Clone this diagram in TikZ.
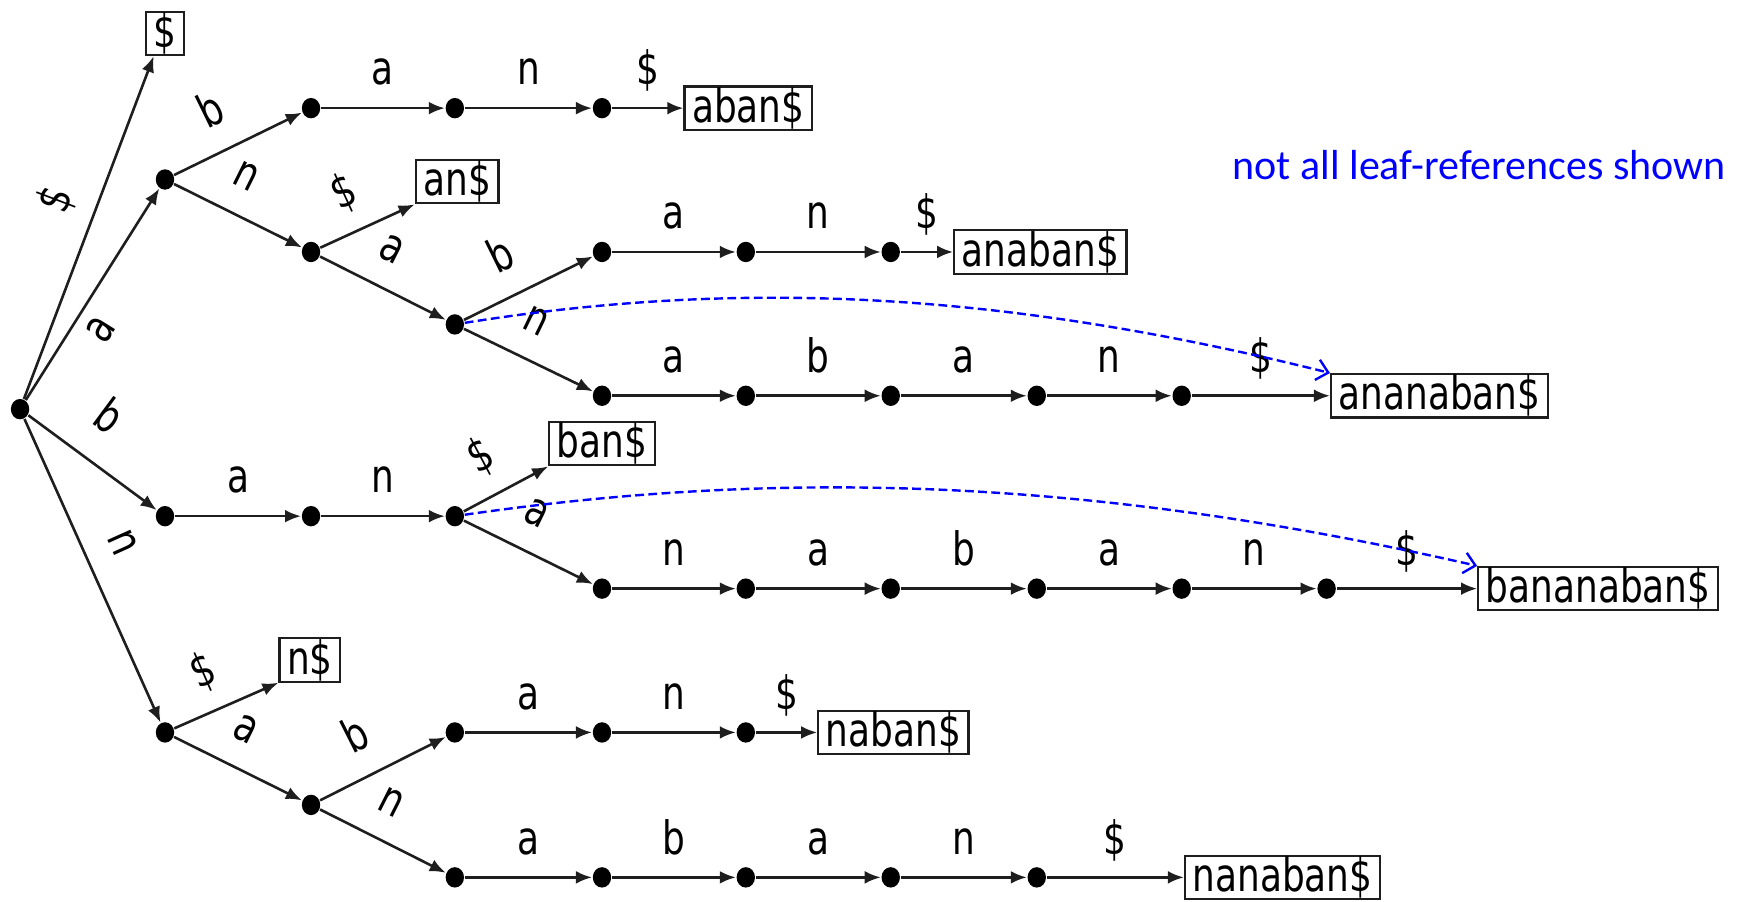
\documentclass[tikz,border=0pt]{standalone}
\usepackage{fontspec}
\newfontfamily\lblFont[FakeStretch=0.78]{DejaVu Sans}
\newfontfamily\noteFont{Carlito}
\usetikzlibrary{arrows.meta, shapes.geometric}
\definecolor{refBlue}{HTML}{0000FF}
\definecolor{edgeInk}{HTML}{1E1E1E}

\begin{document}
\begin{tikzpicture}[x=0.2787pt, y=-0.2787pt,
    dotNode/.style={ellipse, fill=black, inner sep=0pt, minimum width=4.6pt, minimum height=5.1pt},
    leafBox/.style={draw=edgeInk, line width=0.55pt, inner xsep=1.9pt, inner ysep=0.2pt, font=\lblFont\fontsize{11.5}{13}\selectfont},
    treeEdge/.style={draw=edgeInk, line width=0.65pt, -{Latex[length=4pt,width=3.2pt]}},
    edgeLbl/.style={font=\lblFont\fontsize{11.5}{13}\selectfont, inner sep=0pt, text height=6.3pt, text depth=0pt},
    onLine/.style={edgeLbl, midway, above=5.5pt},
    onSlope/.style={edgeLbl, pos=.43, sloped, above=6.2pt},
    leafRef/.style={draw=refBlue, line width=0.6pt, dash pattern=on 2.2pt off 1.1pt, -{Straight Barb[length=2.8pt,width=5.2pt]}}]

\useasboundingbox (0,0) rectangle (1568,809);

% tree nodes
\node[dotNode] (r) at (18,367) {};
\node[dotNode] (a) at (148,161) {};
\node[dotNode] (ab) at (279,97) {};
\node[dotNode] (aba) at (408,97) {};
\node[dotNode] (aban) at (540,97) {};
\node[dotNode] (an) at (279,226) {};
\node[dotNode] (ana) at (408,291) {};
\node[dotNode] (anab) at (540,226) {};
\node[dotNode] (anaba) at (669,226) {};
\node[dotNode] (anaban) at (799,226) {};
\node[dotNode] (anan) at (540,355) {};
\node[dotNode] (anana) at (669,355) {};
\node[dotNode] (ananab) at (799,355) {};
\node[dotNode] (ananaba) at (930,355) {};
\node[dotNode] (ananaban) at (1060,355) {};
\node[dotNode] (b) at (148,463) {};
\node[dotNode] (ba) at (279,463) {};
\node[dotNode] (ban) at (408,463) {};
\node[dotNode] (bana) at (540,528) {};
\node[dotNode] (banan) at (669,528) {};
\node[dotNode] (banana) at (799,528) {};
\node[dotNode] (bananab) at (930,528) {};
\node[dotNode] (bananaba) at (1060,528) {};
\node[dotNode] (bananaban) at (1190,528) {};
\node[dotNode] (n) at (148,657) {};
\node[dotNode] (na) at (279,722) {};
\node[dotNode] (nab) at (408,657) {};
\node[dotNode] (naba) at (540,657) {};
\node[dotNode] (naban) at (669,657) {};
\node[dotNode] (nan) at (408,787) {};
\node[dotNode] (nana) at (540,787) {};
\node[dotNode] (nanab) at (669,787) {};
\node[dotNode] (nanaba) at (799,787) {};
\node[dotNode] (nanaban) at (930,787) {};

% leaves
\node[leafBox] (leafD) at (148,30) {\$};
\node[leafBox, anchor=west] (leafAban) at (613,97) {aban\$};
\node[leafBox] (leafAn) at (410,163) {an\$};
\node[leafBox, anchor=west] (leafAnaban) at (855,226) {anaban\$};
\node[leafBox, anchor=west] (leafAnanaban) at (1193,355) {ananaban\$};
\node[leafBox] (leafBan) at (540,398) {ban\$};
\node[leafBox, anchor=west] (leafBananaban) at (1325,528) {bananaban\$};
\node[leafBox] (leafN) at (278,592) {n\$};
\node[leafBox, anchor=west] (leafNaban) at (733,657) {naban\$};
\node[leafBox, anchor=west] (leafNanaban) at (1062,787) {nanaban\$};

\node[text=refBlue, font=\noteFont\fontsize{10.5}{12}\selectfont] (note) at (1327,148) {not all leaf-references shown};

% edges from the root
\draw[treeEdge] (r) -- node[edgeLbl, pos=.54, sloped, above=6.2pt] {\$} ([xshift=2.2pt]leafD.south west);
\draw[treeEdge] (r) -- node[edgeLbl, pos=.4, sloped, below=3pt] {a} (a);
\draw[treeEdge] (r) -- node[edgeLbl, pos=.41, sloped, above=7.5pt] {b} (b);
\draw[treeEdge] (r) -- node[edgeLbl, pos=.46, sloped, above=6.2pt] {n} (n);

% a-subtree
\draw[treeEdge] (a) -- node[onSlope] {b} (ab);
\draw[treeEdge] (a) -- node[onSlope] {n} (an);
\draw[treeEdge] (ab) -- node[onLine] {a} (aba);
\draw[treeEdge] (aba) -- node[onLine] {n} (aban);
\draw[treeEdge] (aban) -- node[onLine] {\$} (leafAban);
\draw[treeEdge] (an) -- node[onSlope] {\$} (leafAn.south west);
\draw[treeEdge] (an) -- node[onSlope] {a} (ana);
\draw[treeEdge] (ana) -- node[onSlope] {b} (anab);
\draw[treeEdge] (ana) -- node[onSlope] {n} (anan);
\draw[treeEdge] (anab) -- node[onLine] {a} (anaba);
\draw[treeEdge] (anaba) -- node[onLine] {n} (anaban);
\draw[treeEdge] (anaban) -- node[onLine] {\$} (leafAnaban);
\draw[treeEdge] (anan) -- node[onLine] {a} (anana);
\draw[treeEdge] (anana) -- node[onLine] {b} (ananab);
\draw[treeEdge] (ananab) -- node[onLine] {a} (ananaba);
\draw[treeEdge] (ananaba) -- node[onLine] {n} (ananaban);
\draw[treeEdge] (ananaban) -- node[onLine] {\$} (leafAnanaban);

% b-subtree
\draw[treeEdge] (b) -- node[onLine] {a} (ba);
\draw[treeEdge] (ba) -- node[onLine] {n} (ban);
\draw[treeEdge] (ban) -- node[onSlope] {\$} (leafBan.south west);
\draw[treeEdge] (ban) -- node[onSlope] {a} (bana);
\draw[treeEdge] (bana) -- node[onLine] {n} (banan);
\draw[treeEdge] (banan) -- node[onLine] {a} (banana);
\draw[treeEdge] (banana) -- node[onLine] {b} (bananab);
\draw[treeEdge] (bananab) -- node[onLine] {a} (bananaba);
\draw[treeEdge] (bananaba) -- node[onLine] {n} (bananaban);
\draw[treeEdge] (bananaban) -- node[onLine] {\$} (leafBananaban);

% n-subtree
\draw[treeEdge] (n) -- node[onSlope] {\$} (leafN.south west);
\draw[treeEdge] (n) -- node[onSlope] {a} (na);
\draw[treeEdge] (na) -- node[onSlope] {b} (nab);
\draw[treeEdge] (na) -- node[onSlope] {n} (nan);
\draw[treeEdge] (nab) -- node[onLine] {a} (naba);
\draw[treeEdge] (naba) -- node[onLine] {n} (naban);
\draw[treeEdge] (naban) -- node[onLine] {\$} (leafNaban);
\draw[treeEdge] (nan) -- node[onLine] {a} (nana);
\draw[treeEdge] (nana) -- node[onLine] {b} (nanab);
\draw[treeEdge] (nanab) -- node[onLine] {a} (nanaba);
\draw[treeEdge] (nanaba) -- node[onLine] {n} (nanaban);
\draw[treeEdge] (nanaban) -- node[onLine] {\$} (leafNanaban);

% leaf references
\draw[leafRef] (ana) .. controls +(250,-40) and +(-300,-75) .. (leafAnanaban.north west);
\draw[leafRef] (ban) .. controls +(290,-42) and +(-350,-80) .. (leafBananaban.north west);
\end{tikzpicture}
\end{document}
